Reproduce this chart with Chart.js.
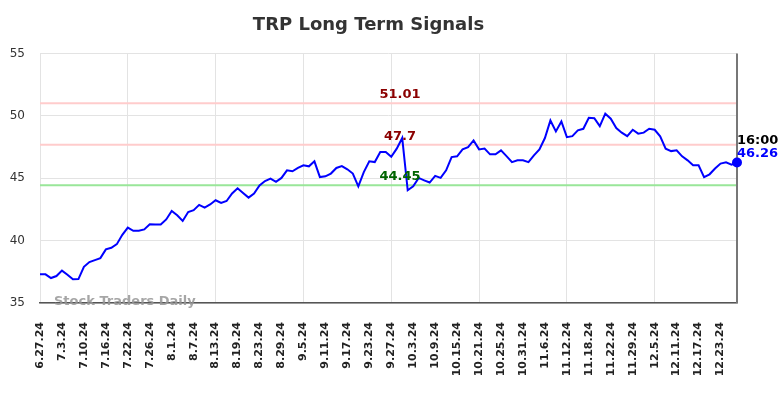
<!DOCTYPE html>
<html>
<head>
<meta charset="utf-8">
<script src="https://cdn.jsdelivr.net/npm/chart.js@4.4.0/dist/chart.umd.min.js"></script>
<style>
  html, body { margin: 0; padding: 0; background: #fff; }
  #wrap { width: 784px; height: 398px; }
</style>
</head>
<body>
<div id="wrap"><canvas id="mycanvas"></canvas></div>
<script>
var dates = [
  '6.27.24','6.28.24',
  '7.1.24','7.2.24','7.3.24','7.5.24','7.8.24','7.9.24','7.10.24','7.11.24','7.12.24','7.15.24','7.16.24','7.17.24','7.18.24','7.19.24','7.22.24','7.23.24','7.24.24','7.25.24','7.26.24','7.29.24','7.30.24','7.31.24',
  '8.1.24','8.2.24','8.5.24','8.6.24','8.7.24','8.8.24','8.9.24','8.12.24','8.13.24','8.14.24','8.15.24','8.16.24','8.19.24','8.20.24','8.21.24','8.22.24','8.23.24','8.26.24','8.27.24','8.28.24','8.29.24','8.30.24',
  '9.3.24','9.4.24','9.5.24','9.6.24','9.9.24','9.10.24','9.11.24','9.12.24','9.13.24','9.16.24','9.17.24','9.18.24','9.19.24','9.20.24','9.23.24','9.24.24','9.25.24','9.26.24','9.27.24','9.30.24',
  '10.1.24','10.2.24','10.3.24','10.4.24','10.7.24','10.8.24','10.9.24','10.10.24','10.11.24','10.14.24','10.15.24','10.16.24','10.17.24','10.18.24','10.21.24','10.22.24','10.23.24','10.24.24','10.25.24','10.28.24','10.29.24','10.30.24','10.31.24',
  '11.1.24','11.4.24','11.5.24','11.6.24','11.7.24','11.8.24','11.11.24','11.12.24','11.13.24','11.14.24','11.15.24','11.18.24','11.19.24','11.20.24','11.21.24','11.22.24','11.25.24','11.26.24','11.27.24','11.29.24',
  '12.2.24','12.3.24','12.4.24','12.5.24','12.6.24','12.9.24','12.10.24','12.11.24','12.12.24','12.13.24','12.16.24','12.17.24','12.18.24','12.19.24','12.20.24','12.23.24','12.24.24','12.26.24','12.27.24'
];

var prices = [
  37.3, 37.3, 37.0, 37.16, 37.6, 37.27, 36.9, 36.92, 37.9, 38.28,
  38.44, 38.6, 39.3, 39.43, 39.72, 40.47, 41.05, 40.79, 40.79, 40.9,
  41.32, 41.3, 41.29, 41.7, 42.38, 42.04, 41.58, 42.3, 42.44, 42.87,
  42.65, 42.9, 43.24, 43.02, 43.18, 43.78, 44.2, 43.82, 43.45, 43.78,
  44.42, 44.78, 44.97, 44.71, 45.03, 45.64, 45.56, 45.83, 46.04, 45.96,
  46.36, 45.1, 45.16, 45.38, 45.83, 45.98, 45.72, 45.38, 44.36, 45.5,
  46.36, 46.3, 47.1, 47.1, 46.72, 47.38, 48.23, 44.04, 44.36, 45.03,
  44.84, 44.66, 45.19, 45.03, 45.64, 46.7, 46.76, 47.32, 47.5, 48.04,
  47.32, 47.38, 46.92, 46.92, 47.24, 46.78, 46.3, 46.44, 46.44, 46.3,
  46.84, 47.32, 48.23, 49.64, 48.76, 49.56, 48.3, 48.38, 48.84, 48.97,
  49.86, 49.82, 49.18, 50.18, 49.78, 49.03, 48.66, 48.38, 48.89, 48.58,
  48.66, 48.97, 48.89, 48.36, 47.38, 47.18, 47.24, 46.76, 46.44, 46.04,
  46.04, 45.1, 45.32, 45.78, 46.18, 46.28, 46.1, 46.26
];

var yTicks = [35, 40, 45, 50, 55];
var upperLevel = 51.01;
var midLevel = 47.7;
var lowerLevel = 44.45;
var lastTime = '16:00';

Chart.defaults.font.family = 'DejaVu Sans';

var last = prices.length - 1;

// horizontal signal lines, their labels, the last price tag and watermark
var signalPlugin = {
  id: 'signals',
  beforeDatasetsDraw: function(chart) {
    var ctx = chart.ctx;
    var area = chart.chartArea;
    var y = chart.scales.y;
    var levels = [
      { v: upperLevel, c: '#ffcccc' },
      { v: midLevel, c: '#ffcccc' },
      { v: lowerLevel, c: '#99e699' }
    ];
    ctx.save();
    ctx.lineWidth = 2;
    levels.forEach(function(l) {
      var py = y.getPixelForValue(l.v);
      ctx.strokeStyle = l.c;
      ctx.beginPath();
      ctx.moveTo(area.left, py);
      ctx.lineTo(area.right, py);
      ctx.stroke();
    });
    // right border
    ctx.strokeStyle = '#777';
    ctx.lineWidth = 2;
    ctx.beginPath();
    ctx.moveTo(area.right, area.top);
    ctx.lineTo(area.right, area.bottom);
    ctx.stroke();
    ctx.restore();
  },
  afterDraw: function(chart) {
    var ctx = chart.ctx;
    var area = chart.chartArea;
    var x = chart.scales.x;
    var y = chart.scales.y;
    ctx.save();
    ctx.font = 'bold 13px DejaVu Sans';
    ctx.textAlign = 'center';
    ctx.textBaseline = 'bottom';
    var cx = 400;
    ctx.fillStyle = '#8b0000';
    ctx.fillText(upperLevel.toFixed(2), cx, y.getPixelForValue(upperLevel) - 2);
    ctx.fillText(String(midLevel), cx, y.getPixelForValue(midLevel) - 2);
    ctx.fillStyle = '#006400';
    ctx.fillText(lowerLevel.toFixed(2), cx, y.getPixelForValue(lowerLevel) - 2);

    var lx = x.getPixelForValue(last);
    var ly = y.getPixelForValue(prices[last]);
    ctx.textAlign = 'left';
    ctx.textBaseline = 'alphabetic';
    ctx.fillStyle = '#000';
    ctx.fillText(lastTime, lx, ly - 19);
    ctx.fillStyle = '#0000ff';
    ctx.fillText(prices[last].toFixed(2), lx, ly - 6);

    ctx.font = 'bold 13px DejaVu Sans';
    ctx.fillStyle = 'rgba(150,150,150,0.85)';
    ctx.textBaseline = 'middle';
    ctx.fillText('Stock Traders Daily', area.left + 14, area.bottom - 1);
    ctx.restore();
  }
};

var ctx = document.getElementById('mycanvas');

var lineChart = new Chart(ctx, {
  type: 'line',
  data: {
    labels: dates,
    datasets: [
      {
        label: 'TRP',
        data: prices,
        borderColor: '#0000ff',
        backgroundColor: '#0000ff',
        borderWidth: 2,
        tension: 0,
        pointRadius: function(c) { return c.dataIndex === last ? 4 : 0; },
        pointHoverRadius: 0
      }
    ]
  },
  options: {
    responsive: true,
    maintainAspectRatio: false,
    animation: false,
    events: [],
    layout: { padding: { left: 0, right: 47, top: 0, bottom: 0 } },
    plugins: {
      legend: { display: false },
      tooltip: { enabled: false },
      title: {
        display: true,
        text: 'TRP Long Term Signals',
        color: '#333',
        font: { size: 18, weight: 'bold' },
        padding: { top: 15, bottom: 17 }
      }
    },
    scales: {
      x: {
        type: 'category',
        offset: false,
        afterFit: function(s) { s.height = 95; },
        grid: {
          drawTicks: false,
          color: function(c) { return c.index % 4 === 0 ? '#e3e3e3' : 'rgba(0,0,0,0)'; },
          lineWidth: 1
        },
        border: { display: true, color: '#555', width: 1.5 },
        ticks: {
          autoSkip: false,
          minRotation: 90,
          maxRotation: 90,
          padding: 19,
          color: '#222',
          font: { size: 11, weight: 'bold' },
          callback: function(v, i) { return i % 4 === 0 ? dates[i] : null; }
        }
      },
      y: {
        min: yTicks[0],
        max: yTicks[yTicks.length - 1],
        afterFit: function(s) { s.width = 40; },
        afterBuildTicks: function(s) { s.ticks = yTicks.map(function(v) { return { value: v }; }); },
        grid: { drawTicks: false, color: '#e3e3e3' },
        border: { display: false },
        ticks: {
          padding: 15,
          color: '#333',
          font: { size: 12 }
        }
      }
    }
  },
  plugins: [signalPlugin]
});
</script>
</body>
</html>
